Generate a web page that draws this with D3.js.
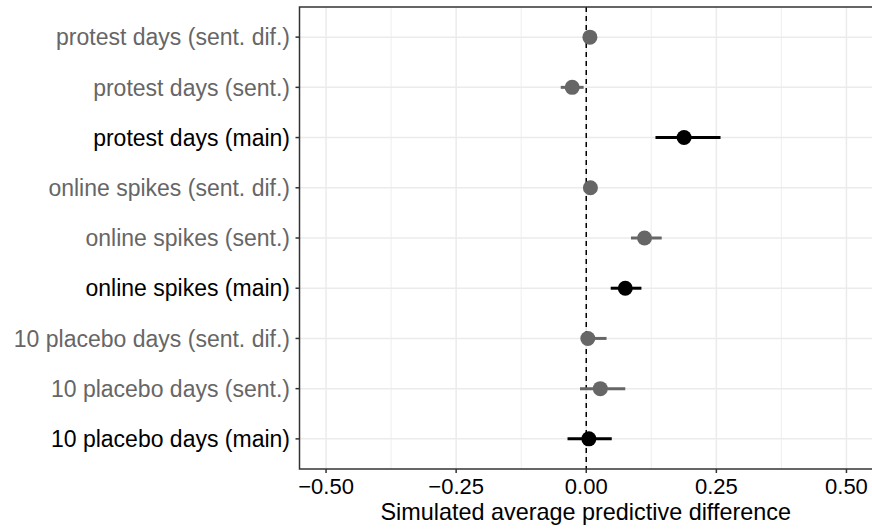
<!DOCTYPE html>
<meta charset="utf-8">
<style>
body { margin: 0; background: #fff; }
text { font-family: "Liberation Sans", Arial, sans-serif; }
</style>
<body>
<svg width="872" height="529"></svg>
<script src="https://d3js.org/d3.v7.min.js"></script>
<script>

// rows from top to bottom
var labels = ["protest days (sent. dif.)", "protest days (sent.)", "protest days (main)",
              "online spikes (sent. dif.)", "online spikes (sent.)", "online spikes (main)",
              "10 placebo days (sent. dif.)", "10 placebo days (sent.)", "10 placebo days (main)"];
var estimate = [0.007, -0.027, 0.188, 0.008, 0.112, 0.075, 0.003, 0.027, 0.005];
var lower    = [0.003, -0.049, 0.133, 0.004, 0.086, 0.047, -0.001, -0.012, -0.036];
var upper    = [0.011, -0.005, 0.258, 0.012, 0.145, 0.106, 0.039, 0.075, 0.049];
var isMain   = [false, false, true, false, false, true, false, false, true];
var xTicks = [-0.5, -0.25, 0, 0.25, 0.5];
var xMinor = [-0.375, -0.125, 0.125, 0.375];

var svg = d3.select("svg");
var pLeft = 299.5, pRight = 873, pTop = 7, pBottom = 469;

var x = d3.scaleLinear().domain([-0.551, 0.551]).range([pLeft, pRight]);
var y = d3.scalePoint().domain(labels).range([pTop, pBottom]).padding(0.6);

var grey = "#666666";

var grid = svg.append("g");
grid.selectAll(".minor").data(xMinor).enter().append("line")
    .attr("x1", d => x(d)).attr("x2", d => x(d))
    .attr("y1", pTop).attr("y2", pBottom)
    .attr("stroke", "#ebebeb").attr("stroke-width", 0.8);
grid.selectAll(".major").data(xTicks).enter().append("line")
    .attr("x1", d => x(d)).attr("x2", d => x(d))
    .attr("y1", pTop).attr("y2", pBottom)
    .attr("stroke", "#ebebeb").attr("stroke-width", 1.5);
grid.selectAll(".hmajor").data(labels).enter().append("line")
    .attr("x1", pLeft).attr("x2", pRight)
    .attr("y1", d => y(d)).attr("y2", d => y(d))
    .attr("stroke", "#ebebeb").attr("stroke-width", 1.5);

// zero reference
svg.append("line")
    .attr("x1", x(0)).attr("x2", x(0))
    .attr("y1", pTop).attr("y2", pBottom)
    .attr("stroke", "#000").attr("stroke-width", 1.5)
    .attr("stroke-dasharray", "5,4");

var rows = labels.map((l, i) => ({label: l, est: estimate[i], lo: lower[i], hi: upper[i], main: isMain[i]}));

svg.append("g").selectAll("line").data(rows).enter().append("line")
    .attr("x1", d => x(d.lo)).attr("x2", d => x(d.hi))
    .attr("y1", d => y(d.label)).attr("y2", d => y(d.label))
    .attr("stroke", d => d.main ? "#000" : grey)
    .attr("stroke-width", 3);

svg.append("g").selectAll("circle").data(rows).enter().append("circle")
    .attr("cx", d => x(d.est)).attr("cy", d => y(d.label))
    .attr("r", 7.5)
    .attr("fill", d => d.main ? "#000" : grey);

// panel border
svg.append("rect")
    .attr("x", pLeft).attr("y", pTop)
    .attr("width", pRight - pLeft).attr("height", pBottom - pTop)
    .attr("fill", "none").attr("stroke", "#333").attr("stroke-width", 1.5);

// y axis
var ya = svg.append("g");
ya.selectAll("line").data(rows).enter().append("line")
    .attr("x1", pLeft - 4).attr("x2", pLeft)
    .attr("y1", d => y(d.label)).attr("y2", d => y(d.label))
    .attr("stroke", "#333").attr("stroke-width", 1.5);
ya.selectAll("text").data(rows).enter().append("text")
    .attr("x", pLeft - 9.5).attr("y", d => y(d.label))
    .attr("dy", "0.36em")
    .attr("text-anchor", "end")
    .attr("font-size", "23px")
    .attr("fill", d => d.main ? "#000" : grey)
    .text(d => d.label);

// x axis
var xa = svg.append("g");
xa.selectAll("line").data(xTicks).enter().append("line")
    .attr("x1", d => x(d)).attr("x2", d => x(d))
    .attr("y1", pBottom).attr("y2", pBottom + 4)
    .attr("stroke", "#333").attr("stroke-width", 1.5);
xa.selectAll("text").data(xTicks).enter().append("text")
    .attr("x", d => x(d)).attr("y", 494)
    .attr("text-anchor", "middle")
    .attr("font-size", "22px")
    .attr("fill", "#000")
    .text(d => d3.format(".2f")(d).replace("-", "\u2212"));

svg.append("text")
    .attr("x", (pLeft + pRight) / 2 - 0.5).attr("y", 520)
    .attr("text-anchor", "middle")
    .attr("font-size", "23.4px")
    .attr("fill", "#000")
    .text("Simulated average predictive difference");

</script>
</body>
